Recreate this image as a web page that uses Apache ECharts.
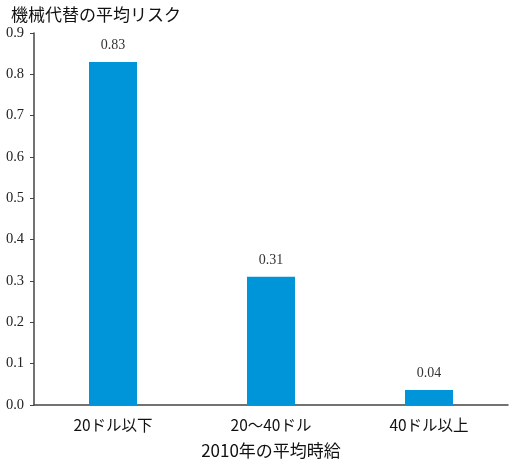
<!DOCTYPE html>
<html>
<head>
<meta charset="utf-8">
<script src="https://cdn.jsdelivr.net/npm/echarts@6/dist/echarts.min.js"></script>
<style>
  html, body { margin: 0; padding: 0; background: #fff; }
  #chart { width: 515px; height: 464px; }
</style>
</head>
<body>
<div id="chart"></div>
<script>
const categories = ['20ドル以下', '20〜40ドル', '40ドル以上'];
const riskValues = [0.83, 0.31, 0.036];
const yTicks = [0, 0.1, 0.2, 0.3, 0.4, 0.5, 0.6, 0.7, 0.8, 0.9];

const chart = echarts.init(document.getElementById('chart'), null, { renderer: 'canvas' });

const option = {
  animation: false,
  title: {
    text: '機械代替の平均リスク',
    left: 6,
    top: 1,
    textStyle: {
      fontFamily: 'Noto Sans CJK JP',
      fontSize: 17,
      fontWeight: 'normal',
      color: '#111',
    },
  },
  grid: { left: 34, right: 7, top: 33, bottom: 57, containLabel: false },
  xAxis: {
    type: 'category',
    data: categories,
    name: '2010年の平均時給',
    nameLocation: 'middle',
    nameGap: 37,
    nameTextStyle: { fontFamily: 'Noto Sans CJK JP', fontSize: 17, color: '#111' },
    axisLine: { lineStyle: { color: '#444', width: 1.5 } },
    axisTick: { show: false },
    axisLabel: { fontFamily: 'Noto Sans CJK JP', fontSize: 15.5, color: '#111', margin: 12 },
  },
  yAxis: {
    type: 'value',
    min: yTicks[0],
    max: yTicks[yTicks.length - 1],
    interval: 0.1,
    axisLine: { show: true, lineStyle: { color: '#444', width: 1.5 } },
    axisTick: { show: true, length: 4, lineStyle: { color: '#444' } },
    splitLine: { show: false },
    axisLabel: {
      fontFamily: 'Liberation Serif',
      fontSize: 14.5,
      color: '#222',
      margin: 10,
      formatter: v => v.toFixed(1),
    },
  },
  series: [
    {
      type: 'bar',
      data: riskValues,
      barWidth: 48,
      itemStyle: { color: '#0095d9' },
      label: {
        show: true,
        position: 'top',
        distance: 10,
        fontFamily: 'Liberation Serif',
        fontSize: 14,
        color: '#333',
        formatter: p => p.value.toFixed(2),
      },
    },
  ],
};

chart.setOption(option);
</script>
</body>
</html>
